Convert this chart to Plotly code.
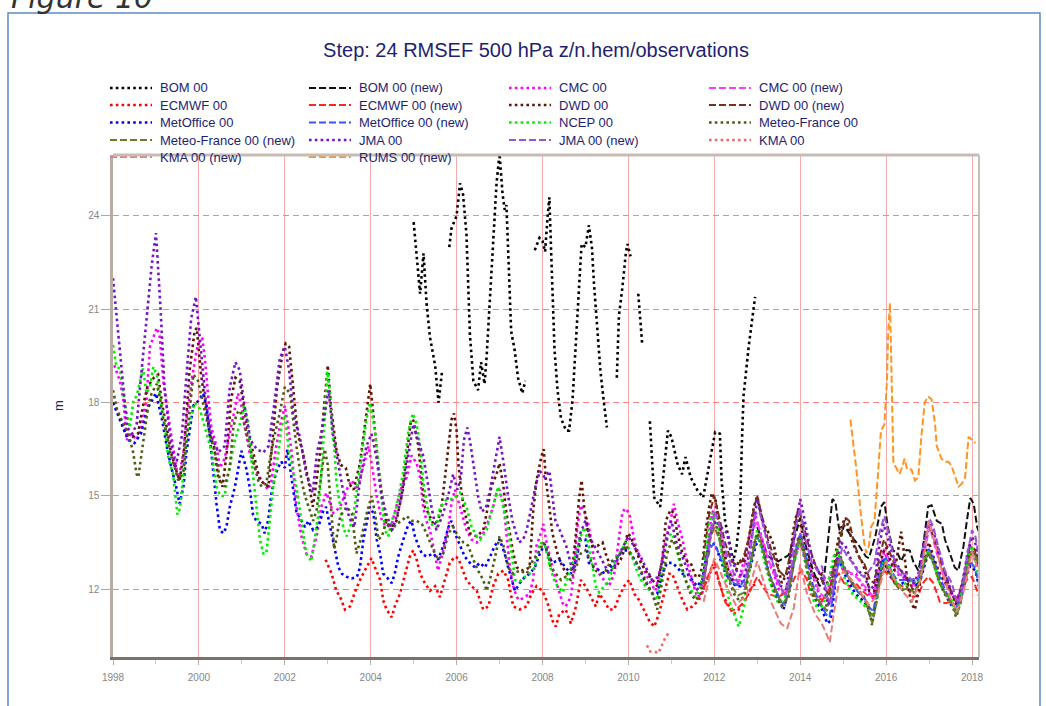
import plotly.graph_objects as go

# ---------------- data (year, m) ----------------
bom_00 = [
    (2005.0, 23.8), (2005.08, 22.5), (2005.15, 21.5), (2005.23, 22.8), (2005.3, 21.2), (2005.38, 20.1),
    (2005.5, 19.2), (2005.58, 18.0), (2005.62, 18.6), (2005.66, 19.0), (2005.75, None),
    (2005.83, 23.0), (2005.88, 23.6), (2006.0, 24.0), (2006.08, 25.05), (2006.15, 24.7), (2006.23, 23.4),
    (2006.27, 21.8), (2006.31, 20.2), (2006.39, 18.7), (2006.5, 18.4), (2006.57, 19.3), (2006.65, 18.6),
    (2006.7, 19.5), (2006.77, 21.3), (2006.85, 23.4), (2006.93, 25.05), (2007.0, 26.0), (2007.07, 24.7),
    (2007.12, 24.2), (2007.16, 24.35), (2007.2, 22.9), (2007.24, 21.3), (2007.27, 20.3), (2007.35, 19.7),
    (2007.43, 18.8), (2007.47, 18.6), (2007.53, 18.3), (2007.6, 18.7), (2007.7, None),
    (2007.82, 22.9), (2007.93, 23.3), (2008.0, 23.2), (2008.06, 22.85), (2008.12, 24.0), (2008.16, 24.6),
    (2008.2, 22.9), (2008.24, 21.1), (2008.28, 19.7), (2008.35, 18.4), (2008.43, 17.5), (2008.55, 17.1),
    (2008.62, 17.1), (2008.7, 18.1), (2008.78, 20.1), (2008.85, 21.8), (2008.91, 23.1), (2009.0, 23.0),
    (2009.08, 23.7), (2009.15, 23.0), (2009.2, 21.8), (2009.28, 20.3), (2009.35, 19.0), (2009.43, 18.0),
    (2009.5, 17.2), (2009.6, None),
    (2009.73, 18.8), (2009.78, 20.8), (2009.86, 21.7), (2009.94, 22.8), (2009.98, 23.1), (2010.05, 22.7),
    (2010.14, None),
    (2010.23, 21.5), (2010.28, 20.4), (2010.32, 19.9), (2010.4, None),
    (2010.5, 17.4), (2010.6, 14.95), (2010.74, 14.65), (2010.92, 17.1), (2011.0, 16.9), (2011.15, 16.0),
    (2011.25, 15.7), (2011.33, 16.25), (2011.45, 15.6), (2011.6, 15.2), (2011.74, 14.95), (2011.9, 16.15),
    (2012.02, 17.05), (2012.13, 17.0), (2012.17, 15.5), (2012.25, 14.2), (2012.44, 12.9), (2012.52, 13.4),
    (2012.6, 14.4), (2012.64, 16.6), (2012.68, 18.2), (2012.8, 19.8), (2012.95, 21.4),
]

bom_00_new = [
    (2013.0, 14.0), (2013.25, 13.05), (2013.49, 12.9), (2013.73, 13.1), (2013.9, 13.8), (2014.0, 14.3),
    (2014.15, 13.3), (2014.3, 12.6), (2014.45, 12.1), (2014.55, 12.3), (2014.65, 13.6), (2014.75, 14.9),
    (2014.82, 14.8), (2014.9, 14.0), (2014.96, 13.7), (2015.02, 14.07), (2015.14, 13.8), (2015.25, 13.6),
    (2015.37, 13.4), (2015.53, 13.05), (2015.6, 13.0), (2015.75, 13.7), (2015.88, 14.65), (2015.96, 14.8),
    (2016.04, 14.0), (2016.16, 13.25), (2016.27, 13.15), (2016.35, 12.9), (2016.47, 13.26), (2016.55, 13.25),
    (2016.63, 12.9), (2016.75, 12.6), (2016.86, 13.37), (2016.98, 14.66), (2017.06, 14.7), (2017.18, 14.2),
    (2017.3, 14.1), (2017.37, 13.6), (2017.49, 13.15), (2017.6, 12.7), (2017.68, 12.6), (2017.8, 13.37),
    (2017.88, 14.2), (2017.96, 14.93), (2018.04, 14.75), (2018.12, 14.0), (2018.16, 13.85),
]

cmc_00 = [
    (1998.03, 19.2), (1998.16, 18.7), (1998.24, 18.1), (1998.32, 16.8), (1998.43, 17.0), (1998.55, 16.8),
    (1998.66, 17.2), (1998.78, 18.1), (1998.86, 19.8), (1998.94, 20.1), (1999.02, 20.4), (1999.09, 20.1),
    (1999.17, 18.7), (1999.25, 17.9), (1999.36, 17.0), (1999.44, 16.2), (1999.52, 15.5), (1999.64, 16.4),
    (1999.71, 17.45), (1999.83, 18.7), (1999.95, 19.7), (2000.02, 20.0), (2000.08, 20.05), (2000.14, 19.4),
    (2000.21, 18.3), (2000.29, 17.2), (2000.41, 16.6), (2000.49, 15.9), (2000.6, 16.2), (2000.72, 17.0),
    (2000.84, 17.9), (2000.91, 18.3), (2000.99, 17.9), (2001.07, 17.2), (2001.18, 16.4), (2001.3, 15.9),
    (2001.46, 15.5), (2001.61, 15.2), (2001.69, 15.5), (2001.8, 16.6), (2001.88, 17.2), (2002.0, 17.9),
    (2002.08, 17.2), (2002.16, 16.4), (2002.27, 14.65), (2002.39, 13.7), (2002.5, 13.15), (2002.62, 13.05),
    (2002.74, 13.7), (2002.85, 14.65), (2002.97, 15.1), (2003.05, 14.75), (2003.13, 14.45), (2003.29, 14.65),
    (2003.44, 15.2), (2003.56, 15.5), (2003.68, 15.2), (2003.83, 15.95), (2003.95, 16.6), (2004.02, 16.05),
    (2004.14, 15.0), (2004.26, 14.2), (2004.37, 14.0), (2004.49, 14.1), (2004.6, 14.65), (2004.72, 15.3),
    (2004.84, 15.6), (2004.95, 16.3), (2005.07, 16.05), (2005.15, 15.6), (2005.22, 14.65), (2005.3, 14.2),
    (2005.38, 13.9), (2005.5, 13.15), (2005.57, 12.6), (2005.69, 13.25), (2005.81, 14.0), (2005.88, 14.75),
    (2005.96, 15.2), (2006.08, 14.65), (2006.16, 14.2), (2006.23, 13.9), (2006.35, 13.6), (2006.47, 13.5),
    (2006.62, 13.8), (2006.74, 14.2), (2006.85, 14.65), (2006.93, 15.1), (2007.0, 15.2), (2007.09, 14.75),
    (2007.16, 13.8), (2007.24, 12.7), (2007.32, 12.1), (2007.4, 11.75), (2007.47, 11.65), (2007.59, 11.75),
    (2007.7, 11.85), (2007.78, 12.3), (2007.86, 13.4), (2007.94, 13.7), (2008.02, 14.1), (2008.08, 13.6),
    (2008.23, 12.7), (2008.35, 12.1), (2008.47, 11.55), (2008.54, 11.45), (2008.66, 11.75), (2008.74, 12.7),
    (2008.81, 14.0), (2008.89, 14.7), (2008.97, 14.5), (2009.05, 14.2), (2009.12, 13.7), (2009.2, 12.95),
    (2009.32, 12.5), (2009.43, 12.3), (2009.55, 12.1), (2009.67, 12.5), (2009.78, 13.6), (2009.86, 14.45),
    (2009.92, 14.6), (2010.02, 14.45), (2010.09, 13.9), (2010.17, 13.4), (2010.29, 12.95), (2010.4, 12.5),
    (2010.52, 12.2), (2010.63, 11.95), (2010.75, 12.7), (2010.87, 13.6), (2010.98, 14.2), (2011.06, 14.75),
    (2011.14, 14.2), (2011.26, 13.6), (2011.37, 12.85), (2011.49, 12.3), (2011.6, 11.75), (2011.72, 11.85),
    (2011.8, 12.7), (2011.88, 13.8), (2011.95, 14.45), (2012.03, 14.65), (2012.11, 14.1), (2012.19, 13.4),
    (2012.3, 12.7), (2012.42, 12.3), (2012.53, 12.1), (2012.65, 12.7), (2012.77, 13.4), (2012.88, 14.1),
    (2012.96, 14.35), (2013.04, 14.0), (2013.16, 13.4), (2013.27, 12.85), (2013.39, 12.5), (2013.5, 12.0),
    (2013.65, 11.8), (2013.8, 12.6), (2014.0, 13.6), (2014.12, 13.0), (2014.25, 12.6), (2014.4, 12.0),
    (2014.5, 11.6), (2014.62, 11.8), (2014.75, 12.6), (2014.9, 13.0), (2015.0, 12.6), (2015.15, 12.5),
    (2015.3, 12.5), (2015.5, 12.0), (2015.7, 11.7), (2015.85, 12.6), (2015.95, 13.2), (2016.1, 12.8),
    (2016.25, 12.5), (2016.5, 12.3), (2016.7, 12.0), (2016.85, 12.6), (2017.0, 13.3), (2017.12, 12.9),
    (2017.25, 12.5), (2017.5, 11.9), (2017.65, 11.6), (2017.8, 12.3), (2017.95, 13.2), (2018.05, 13.0),
    (2018.15, 12.8),
]

cmc_00_new = [
    (2011.75, 12.0), (2011.9, 13.9), (2012.03, 14.5), (2012.15, 13.8), (2012.3, 12.8), (2012.45, 12.3),
    (2012.6, 12.3), (2012.75, 13.0), (2012.9, 13.9), (2013.0, 14.2), (2013.15, 13.4), (2013.3, 12.8),
    (2013.45, 12.3), (2013.6, 11.9), (2013.75, 12.3), (2013.9, 13.3), (2014.0, 13.8), (2014.12, 13.1),
    (2014.28, 12.5), (2014.45, 11.9), (2014.6, 11.7), (2014.72, 12.2), (2014.85, 12.9), (2014.95, 12.8),
    (2015.1, 12.6), (2015.3, 12.4), (2015.5, 12.1), (2015.68, 11.8), (2015.82, 12.4), (2015.95, 13.3),
    (2016.1, 12.9), (2016.3, 12.5), (2016.5, 12.3), (2016.68, 12.1), (2016.82, 12.6), (2016.95, 13.6),
    (2017.02, 14.0), (2017.15, 13.3), (2017.3, 12.6), (2017.5, 11.9), (2017.65, 11.7), (2017.8, 12.3),
    (2017.95, 13.2), (2018.06, 13.1), (2018.16, 12.8),
]

ecmwf_00 = [
    (2002.95, 12.95), (2003.09, 12.5), (2003.2, 11.95), (2003.29, 11.75), (2003.4, 11.35), (2003.52, 11.45),
    (2003.63, 11.9), (2003.75, 12.3), (2003.9, 12.7), (2004.02, 13.0), (2004.1, 12.7), (2004.22, 12.3),
    (2004.29, 11.65), (2004.37, 11.35), (2004.49, 11.1), (2004.56, 11.45), (2004.68, 11.85), (2004.8, 12.5),
    (2004.91, 13.05), (2004.99, 13.25), (2005.07, 12.95), (2005.15, 12.5), (2005.26, 12.2), (2005.38, 11.95),
    (2005.5, 12.1), (2005.61, 11.75), (2005.73, 12.3), (2005.84, 12.85), (2005.96, 13.05), (2006.04, 13.0),
    (2006.12, 12.7), (2006.23, 12.3), (2006.35, 12.1), (2006.47, 11.95), (2006.62, 11.35), (2006.74, 11.45),
    (2006.85, 12.1), (2006.97, 12.5), (2007.09, 12.6), (2007.2, 12.3), (2007.32, 11.45), (2007.47, 11.35),
    (2007.63, 11.45), (2007.74, 11.85), (2007.86, 12.1), (2008.0, 11.95), (2008.12, 11.55), (2008.23, 11.0),
    (2008.31, 10.8), (2008.39, 11.2), (2008.54, 11.35), (2008.66, 10.9), (2008.78, 11.45), (2008.89, 12.3),
    (2009.0, 12.1), (2009.12, 11.75), (2009.24, 11.45), (2009.32, 11.85), (2009.43, 11.65), (2009.55, 11.35),
    (2009.67, 11.35), (2009.78, 11.75), (2009.9, 12.1), (2010.02, 12.3), (2010.14, 11.85), (2010.25, 11.65),
    (2010.36, 11.35), (2010.48, 11.0), (2010.6, 10.8), (2010.71, 11.2), (2010.83, 11.85), (2010.95, 12.5),
    (2011.02, 12.5), (2011.14, 12.1), (2011.26, 11.65), (2011.37, 11.35), (2011.49, 11.45), (2011.64, 11.65),
    (2011.76, 12.1), (2011.88, 12.5), (2011.99, 12.7), (2012.1, 12.3), (2012.22, 11.75), (2012.34, 11.45),
    (2012.45, 11.2), (2012.57, 11.35), (2012.72, 11.65), (2012.88, 12.1), (2013.0, 12.2),
]

ecmwf_00_new = [
    (2011.75, 12.0), (2011.9, 12.6), (2012.0, 12.9), (2012.1, 12.3), (2012.25, 11.6), (2012.4, 11.3),
    (2012.55, 11.4), (2012.7, 11.6), (2012.85, 12.0), (2013.0, 12.4), (2013.12, 12.1), (2013.25, 11.85),
    (2013.49, 11.75), (2013.73, 11.95), (2013.88, 12.4), (2014.04, 12.6), (2014.16, 12.3), (2014.24, 11.85),
    (2014.39, 11.75), (2014.51, 11.65), (2014.63, 11.85), (2014.75, 12.3), (2014.9, 12.5), (2015.02, 12.2),
    (2015.14, 12.1), (2015.29, 12.2), (2015.45, 11.95), (2015.61, 11.75), (2015.76, 11.8), (2015.88, 12.4),
    (2015.96, 12.6), (2016.08, 12.4), (2016.24, 12.2), (2016.39, 12.1), (2016.51, 12.0), (2016.63, 11.75),
    (2016.75, 11.8), (2016.86, 12.2), (2016.98, 12.4), (2017.1, 12.2), (2017.25, 11.6), (2017.37, 11.55),
    (2017.53, 11.6), (2017.65, 11.75), (2017.76, 11.95), (2017.88, 12.3), (2018.0, 12.4), (2018.12, 11.95),
    (2018.17, 11.75),
]

dwd_00 = [
    (1998.0, 18.0), (1998.17, 17.5), (1998.3, 17.0), (1998.45, 16.9), (1998.58, 17.0), (1998.7, 17.9),
    (1998.8, 18.5), (1998.95, 18.8), (1999.05, 18.9), (1999.15, 17.9), (1999.25, 17.2), (1999.35, 16.4),
    (1999.45, 15.9), (1999.55, 15.5), (1999.65, 16.4), (1999.78, 19.0), (1999.9, 20.3), (1999.95, 20.4),
    (2000.05, 18.9), (2000.15, 17.9), (2000.25, 17.0), (2000.35, 16.6), (2000.45, 15.6), (2000.55, 15.3),
    (2000.65, 16.4), (2000.75, 18.1), (2000.85, 18.8), (2000.95, 18.7), (2001.05, 17.9), (2001.15, 17.0),
    (2001.3, 16.2), (2001.42, 15.5), (2001.52, 15.4), (2001.62, 15.3), (2001.72, 16.9), (2001.82, 18.5),
    (2001.95, 19.6), (2002.02, 19.9), (2002.1, 19.8), (2002.2, 18.3), (2002.3, 17.0), (2002.42, 16.4),
    (2002.55, 15.5), (2002.65, 14.65), (2002.72, 15.3), (2002.82, 16.4), (2002.92, 17.9), (2003.0, 19.2),
    (2003.08, 17.8), (2003.2, 16.5), (2003.3, 16.0), (2003.42, 15.9), (2003.5, 15.4), (2003.6, 15.2),
    (2003.75, 16.05), (2003.88, 17.4), (2003.99, 18.6), (2004.1, 17.1), (2004.17, 16.0), (2004.22, 15.5),
    (2004.3, 14.65), (2004.37, 14.1), (2004.49, 14.0), (2004.6, 14.2), (2004.72, 15.0), (2004.84, 16.3),
    (2004.93, 17.35), (2004.99, 17.45), (2005.11, 16.6), (2005.19, 15.5), (2005.26, 14.65), (2005.34, 14.45),
    (2005.46, 14.1), (2005.57, 14.2), (2005.65, 14.65), (2005.73, 15.6), (2005.81, 16.6), (2005.88, 17.45),
    (2005.94, 17.65), (2006.0, 17.1), (2006.04, 16.05), (2006.08, 15.5), (2006.16, 14.65), (2006.23, 14.2),
    (2006.31, 13.8), (2006.47, 13.7), (2006.62, 13.9), (2006.7, 14.45), (2006.81, 15.3), (2006.93, 15.7),
    (2007.0, 16.05), (2007.09, 15.3), (2007.16, 14.45), (2007.24, 13.8), (2007.32, 13.15), (2007.4, 12.7),
    (2007.55, 12.6), (2007.7, 12.7), (2007.78, 14.45), (2007.86, 15.5), (2007.98, 16.3), (2008.03, 16.5),
    (2008.08, 15.5), (2008.16, 14.65), (2008.23, 13.8), (2008.35, 13.15), (2008.47, 12.7), (2008.58, 12.5),
    (2008.7, 12.7), (2008.78, 13.8), (2008.85, 14.9), (2008.91, 15.5), (2008.97, 14.65), (2009.05, 13.9),
    (2009.16, 13.4), (2009.28, 13.4), (2009.4, 13.5), (2009.47, 13.15), (2009.59, 12.7), (2009.7, 12.7),
    (2009.82, 12.95), (2009.9, 13.25), (2009.98, 13.8), (2010.05, 13.7), (2010.17, 13.25), (2010.29, 12.85),
    (2010.4, 12.6), (2010.56, 12.3), (2010.67, 12.1), (2010.79, 12.95), (2010.87, 14.2), (2010.98, 14.55),
    (2011.06, 14.45), (2011.14, 13.8), (2011.26, 13.15), (2011.37, 12.9), (2011.45, 12.85), (2011.57, 12.4),
    (2011.64, 12.4), (2011.72, 12.7), (2011.8, 13.9), (2011.88, 14.65), (2011.94, 15.1), (2012.03, 14.85),
    (2012.1, 14.2), (2012.18, 13.6), (2012.3, 12.7), (2012.42, 12.3), (2012.53, 12.7), (2012.57, 12.95),
    (2012.69, 12.85), (2012.8, 13.6), (2012.92, 14.65), (2013.0, 15.0), (2013.08, 14.45), (2013.15, 14.1),
    (2013.27, 13.8), (2013.39, 13.4), (2013.47, 12.8), (2013.57, 12.2), (2013.73, 12.6), (2013.84, 13.9),
    (2013.92, 14.45), (2014.04, 13.9), (2014.16, 13.15), (2014.27, 12.5), (2014.39, 12.3), (2014.51, 12.5),
    (2014.63, 12.2), (2014.75, 12.6), (2014.9, 13.7), (2014.98, 14.1), (2015.06, 14.3), (2015.14, 13.9),
    (2015.22, 13.5), (2015.33, 13.15), (2015.45, 12.85), (2015.53, 12.5), (2015.61, 11.95), (2015.73, 11.95),
    (2015.84, 12.6), (2015.92, 13.15), (2016.0, 13.35), (2016.08, 13.0), (2016.2, 12.6), (2016.27, 13.25),
    (2016.35, 13.85), (2016.43, 13.05), (2016.51, 12.1), (2016.59, 11.55), (2016.67, 11.35), (2016.78, 12.1),
    (2016.9, 13.05), (2017.0, 13.5), (2017.1, 13.05), (2017.22, 12.6), (2017.33, 12.3), (2017.45, 12.1),
    (2017.57, 11.75), (2017.65, 11.45), (2017.76, 12.1), (2017.88, 12.95), (2017.96, 13.35), (2018.08, 13.25),
    (2018.16, 12.75),
]

dwd_00_new = [
    (2011.75, 13.0), (2011.88, 14.4), (2012.0, 15.0), (2012.1, 14.4), (2012.25, 13.5), (2012.4, 12.9),
    (2012.5, 12.8), (2012.65, 12.9), (2012.8, 13.6), (2012.92, 14.6), (2013.0, 15.0), (2013.12, 14.3),
    (2013.25, 13.6), (2013.4, 13.0), (2013.5, 12.6), (2013.65, 12.4), (2013.78, 13.2), (2013.95, 14.6),
    (2014.05, 14.2), (2014.2, 13.4), (2014.35, 12.8), (2014.45, 12.5), (2014.58, 12.0), (2014.68, 11.8),
    (2014.78, 12.5), (2014.9, 13.5), (2015.05, 14.3), (2015.14, 14.2), (2015.25, 13.5), (2015.38, 13.0),
    (2015.5, 12.8), (2015.62, 12.3), (2015.72, 12.2), (2015.84, 13.0), (2015.95, 13.6), (2016.08, 13.2),
    (2016.2, 12.8), (2016.35, 12.6), (2016.5, 12.3), (2016.62, 12.0), (2016.75, 12.2), (2016.88, 13.3),
    (2017.0, 14.1), (2017.1, 13.7), (2017.25, 13.0), (2017.4, 12.4), (2017.5, 12.0), (2017.62, 11.6),
    (2017.72, 11.7), (2017.84, 12.6), (2017.95, 13.4), (2018.05, 13.3), (2018.15, 12.8),
]

metoffice_00 = [
    (1998.0, 18.0), (1998.2, 17.3), (1998.35, 16.8), (1998.5, 16.7), (1998.65, 17.0), (1998.8, 17.8),
    (1999.0, 18.3), (1999.15, 17.4), (1999.25, 16.6), (1999.36, 15.9), (1999.47, 15.3), (1999.55, 14.75),
    (1999.64, 15.3), (1999.71, 16.4), (1999.79, 17.2), (1999.87, 17.9), (1999.98, 18.05), (2000.1, 18.3),
    (2000.18, 17.9), (2000.25, 16.9), (2000.33, 15.8), (2000.41, 14.75), (2000.49, 13.9), (2000.57, 13.8),
    (2000.64, 14.0), (2000.72, 14.65), (2000.84, 15.3), (2000.92, 15.9), (2000.99, 16.45), (2001.1, 15.9),
    (2001.18, 15.3), (2001.26, 14.4), (2001.34, 14.2), (2001.46, 14.1), (2001.53, 13.8), (2001.61, 14.2),
    (2001.69, 15.1), (2001.77, 15.6), (2001.84, 15.9), (2001.92, 16.1), (2002.0, 15.9), (2002.06, 16.5),
    (2002.12, 15.9), (2002.19, 15.3), (2002.27, 14.5), (2002.39, 14.2), (2002.47, 14.0), (2002.55, 14.2),
    (2002.66, 13.9), (2002.78, 14.0), (2002.89, 14.5), (2002.96, 14.65), (2003.05, 14.0), (2003.17, 13.25),
    (2003.25, 12.7), (2003.33, 12.5), (2003.44, 12.4), (2003.56, 12.35), (2003.68, 12.4), (2003.75, 12.7),
    (2003.83, 13.6), (2003.9, 14.1), (2003.98, 14.65), (2004.06, 14.45), (2004.14, 13.6), (2004.22, 13.15),
    (2004.29, 12.5), (2004.37, 12.4), (2004.49, 12.2), (2004.56, 12.5), (2004.64, 13.05), (2004.76, 13.6),
    (2004.88, 14.1), (2004.95, 14.2), (2005.03, 13.7), (2005.11, 13.4), (2005.19, 13.15), (2005.3, 13.05),
    (2005.46, 13.15), (2005.57, 12.95), (2005.69, 13.4), (2005.81, 14.0), (2005.88, 14.2), (2005.96, 13.8),
    (2006.08, 13.4), (2006.19, 13.05), (2006.31, 12.85), (2006.43, 12.7), (2006.54, 12.85), (2006.66, 12.7),
    (2006.78, 13.05), (2006.89, 13.4), (2007.0, 13.6), (2007.12, 13.15), (2007.2, 12.7), (2007.28, 12.3),
    (2007.36, 11.95), (2007.47, 12.2), (2007.59, 12.4), (2007.7, 12.5), (2007.82, 12.7), (2007.94, 13.15),
    (2008.05, 13.45), (2008.12, 13.15), (2008.23, 12.85), (2008.39, 12.95), (2008.54, 12.7), (2008.66, 12.5),
    (2008.78, 12.95), (2008.89, 13.6), (2009.0, 13.6), (2009.08, 12.85), (2009.2, 12.7), (2009.32, 12.6),
    (2009.47, 12.5), (2009.59, 12.7), (2009.7, 12.95), (2009.86, 13.25), (2009.98, 13.25), (2010.09, 13.05),
    (2010.25, 12.7), (2010.4, 12.2), (2010.56, 11.85), (2010.67, 11.85), (2010.79, 12.5), (2010.9, 12.85),
    (2011.02, 12.85), (2011.14, 12.7), (2011.26, 12.5), (2011.37, 12.5), (2011.49, 12.3), (2011.6, 12.1),
    (2011.72, 12.3), (2011.8, 12.95), (2011.88, 13.4), (2011.95, 13.5), (2012.03, 13.4), (2012.15, 12.95),
    (2012.26, 12.5), (2012.38, 12.3), (2012.5, 12.1), (2012.61, 12.1), (2012.73, 12.5), (2012.84, 12.7),
    (2012.96, 13.4), (2013.04, 13.6), (2013.16, 13.15), (2013.27, 12.5), (2013.39, 12.1), (2013.5, 11.75),
    (2013.61, 11.35), (2013.73, 11.95), (2013.88, 13.15), (2013.96, 13.6), (2014.04, 13.4), (2014.16, 12.6),
    (2014.27, 11.95), (2014.39, 11.55), (2014.51, 11.35), (2014.63, 10.9), (2014.71, 11.0), (2014.78, 11.75),
    (2014.86, 12.75), (2014.94, 12.85), (2015.06, 12.4), (2015.18, 12.1), (2015.29, 11.85), (2015.45, 11.65),
    (2015.57, 11.45), (2015.65, 11.1), (2015.73, 11.35), (2015.84, 12.4), (2015.92, 12.95), (2016.04, 12.6),
    (2016.16, 12.3), (2016.27, 12.1), (2016.39, 12.2), (2016.51, 12.3), (2016.63, 12.3), (2016.75, 12.1),
    (2016.86, 12.6), (2016.98, 13.15), (2017.1, 12.95), (2017.22, 12.4), (2017.33, 11.95), (2017.49, 11.55),
    (2017.6, 11.35), (2017.72, 11.55), (2017.84, 12.3), (2017.96, 12.75), (2018.08, 12.6), (2018.16, 12.1),
]

metoffice_00_new = [
    (2011.75, 12.4), (2011.9, 13.3), (2012.0, 13.5), (2012.15, 13.0), (2012.3, 12.5), (2012.45, 12.2),
    (2012.6, 12.1), (2012.75, 12.4), (2012.9, 13.2), (2013.0, 13.7), (2013.12, 13.3), (2013.25, 12.6),
    (2013.4, 12.1), (2013.55, 11.6), (2013.65, 11.5), (2013.78, 12.2), (2013.9, 13.2), (2014.0, 13.8),
    (2014.1, 13.3), (2014.22, 12.5), (2014.35, 11.9), (2014.48, 11.5), (2014.6, 11.2), (2014.68, 11.1),
    (2014.78, 11.9), (2014.88, 12.8), (2014.96, 12.9), (2015.08, 12.5), (2015.2, 12.2), (2015.35, 11.9),
    (2015.5, 11.7), (2015.62, 11.4), (2015.7, 11.3), (2015.8, 12.0), (2015.9, 12.9), (2016.0, 13.0),
    (2016.12, 12.6), (2016.25, 12.3), (2016.4, 12.3), (2016.55, 12.3), (2016.68, 12.2), (2016.8, 12.4),
    (2016.92, 13.0), (2017.0, 13.3), (2017.12, 12.9), (2017.25, 12.4), (2017.4, 11.9), (2017.52, 11.6),
    (2017.62, 11.4), (2017.74, 11.7), (2017.86, 12.4), (2017.96, 12.9), (2018.06, 12.7), (2018.16, 12.2),
]

ncep_00 = [
    (1998.0, 19.85), (1998.08, 19.15), (1998.16, 19.1), (1998.28, 17.9), (1998.39, 17.2), (1998.48, 18.1),
    (1998.55, 18.2), (1998.63, 18.7), (1998.7, 19.1), (1998.78, 18.3), (1998.86, 18.5), (1998.94, 19.15),
    (1999.02, 18.9), (1999.1, 18.1), (1999.21, 17.2), (1999.29, 16.2), (1999.4, 15.7), (1999.5, 14.4),
    (1999.56, 14.6), (1999.64, 15.7), (1999.71, 16.9), (1999.83, 17.65), (1999.91, 18.0), (2000.02, 17.8),
    (2000.1, 17.4), (2000.18, 17.0), (2000.3, 16.4), (2000.41, 15.3), (2000.5, 15.0), (2000.6, 15.0),
    (2000.68, 15.7), (2000.84, 16.8), (2000.95, 17.3), (2001.05, 17.9), (2001.14, 17.45), (2001.22, 16.2),
    (2001.34, 14.7), (2001.42, 13.6), (2001.5, 13.15), (2001.57, 13.15), (2001.65, 14.2), (2001.73, 15.3),
    (2001.85, 16.4), (2001.92, 17.2), (2002.0, 17.6), (2002.1, 16.4), (2002.27, 15.3), (2002.39, 14.2),
    (2002.5, 13.15), (2002.62, 12.9), (2002.7, 13.6), (2002.78, 14.4), (2002.85, 15.8), (2002.93, 17.4),
    (2002.99, 19.0), (2003.05, 18.3), (2003.1, 17.1), (2003.15, 16.6), (2003.2, 15.5), (2003.28, 14.7),
    (2003.36, 14.0), (2003.44, 13.7), (2003.52, 14.0), (2003.6, 14.4), (2003.71, 15.5), (2003.83, 16.6),
    (2003.9, 17.45), (2003.98, 18.0), (2004.1, 17.1), (2004.18, 16.0), (2004.26, 14.8), (2004.33, 13.9),
    (2004.41, 13.7), (2004.49, 14.2), (2004.56, 14.45), (2004.64, 14.9), (2004.76, 15.8), (2004.88, 17.1),
    (2004.98, 17.65), (2005.07, 17.3), (2005.15, 16.6), (2005.22, 15.5), (2005.3, 14.8), (2005.38, 14.2),
    (2005.46, 14.0), (2005.53, 14.0), (2005.61, 14.6), (2005.77, 14.9), (2005.92, 14.9), (2006.08, 15.1),
    (2006.23, 14.65), (2006.35, 14.0), (2006.47, 13.7), (2006.55, 13.6), (2006.7, 13.9), (2006.85, 14.65),
    (2006.97, 15.3), (2007.09, 14.65), (2007.2, 13.9), (2007.28, 13.15), (2007.36, 12.3), (2007.47, 12.25),
    (2007.59, 12.4), (2007.7, 12.5), (2007.82, 12.7), (2007.94, 13.5), (2008.05, 13.45), (2008.16, 12.8),
    (2008.27, 12.3), (2008.35, 12.1), (2008.47, 11.9), (2008.62, 12.5), (2008.78, 13.15), (2008.89, 13.7),
    (2008.97, 14.0), (2009.08, 13.4), (2009.16, 12.8), (2009.24, 12.1), (2009.32, 11.9), (2009.43, 12.1),
    (2009.55, 12.3), (2009.7, 12.95), (2009.82, 13.25), (2009.94, 13.5), (2010.05, 13.2), (2010.17, 12.7),
    (2010.29, 12.3), (2010.4, 12.1), (2010.56, 11.9), (2010.67, 11.65), (2010.79, 12.7), (2010.9, 13.6),
    (2011.0, 13.8), (2011.08, 13.6), (2011.22, 12.7), (2011.33, 12.3), (2011.49, 11.9), (2011.57, 11.75),
    (2011.68, 12.1), (2011.8, 13.15), (2011.88, 14.1), (2011.95, 14.45), (2012.07, 14.1), (2012.15, 13.4),
    (2012.22, 12.7), (2012.34, 11.65), (2012.46, 11.2), (2012.57, 10.8), (2012.69, 11.45), (2012.8, 12.5),
    (2012.92, 13.4), (2013.0, 13.9), (2013.08, 13.4), (2013.2, 12.7), (2013.35, 12.0), (2013.49, 11.55),
    (2013.65, 11.75), (2013.8, 12.6), (2013.92, 13.15), (2014.0, 13.6), (2014.08, 13.15), (2014.2, 12.3),
    (2014.31, 11.65), (2014.43, 11.3), (2014.55, 11.55), (2014.67, 12.3), (2014.78, 13.05), (2014.86, 13.25),
    (2014.94, 12.95), (2015.06, 12.2), (2015.22, 11.85), (2015.33, 11.7), (2015.45, 11.55), (2015.57, 11.35),
    (2015.69, 11.1), (2015.8, 11.75), (2015.88, 12.6), (2015.96, 12.95), (2016.08, 12.75), (2016.2, 12.3),
    (2016.31, 12.1), (2016.47, 12.2), (2016.63, 12.3), (2016.75, 12.1), (2016.86, 12.75), (2016.98, 13.25),
    (2017.1, 12.85), (2017.22, 12.3), (2017.33, 11.95), (2017.49, 11.75), (2017.6, 11.35), (2017.68, 11.35),
    (2017.8, 12.3), (2017.92, 13.05), (2018.0, 13.4), (2018.12, 12.6), (2018.16, 12.4),
]

meteofrance_00 = [
    (1998.0, 18.4), (1998.1, 17.75), (1998.2, 17.45), (1998.28, 17.2), (1998.36, 17.0), (1998.47, 16.4),
    (1998.55, 15.7), (1998.59, 15.6), (1998.67, 16.4), (1998.74, 17.0), (1998.82, 17.9), (1998.9, 18.3),
    (1999.02, 18.6), (1999.1, 18.1), (1999.17, 17.45), (1999.25, 17.0), (1999.33, 16.4), (1999.44, 15.9),
    (1999.52, 15.5), (1999.64, 15.8), (1999.71, 16.8), (1999.79, 17.9), (1999.87, 18.9), (1999.98, 18.7),
    (2000.1, 17.9), (2000.18, 17.45), (2000.29, 16.8), (2000.41, 16.2), (2000.49, 15.5), (2000.6, 15.3),
    (2000.72, 15.9), (2000.8, 17.2), (2000.88, 17.65), (2000.95, 17.75), (2001.03, 17.45), (2001.15, 16.8),
    (2001.26, 16.15), (2001.38, 15.5), (2001.46, 15.3), (2001.57, 15.4), (2001.65, 16.15), (2001.77, 17.0),
    (2001.88, 17.65), (2002.0, 18.5), (2002.12, 18.3), (2002.19, 17.45), (2002.27, 16.6), (2002.39, 15.5),
    (2002.47, 15.0), (2002.58, 14.55), (2002.66, 14.2), (2002.74, 14.55), (2002.85, 15.7), (2002.93, 16.5),
    (2003.0, 16.0), (2003.08, 14.5), (2003.15, 13.3), (2003.2, 13.6), (2003.29, 14.35), (2003.44, 14.65),
    (2003.56, 14.45), (2003.67, 13.15), (2003.79, 13.7), (2003.91, 14.45), (2004.02, 15.0), (2004.1, 14.45),
    (2004.18, 13.6), (2004.26, 13.7), (2004.37, 14.2), (2004.49, 13.9), (2004.6, 14.1), (2004.72, 14.2),
    (2004.84, 14.35), (2004.95, 14.2), (2005.07, 14.2), (2005.19, 14.1), (2005.3, 13.8), (2005.46, 13.25),
    (2005.57, 12.95), (2005.69, 13.15), (2005.81, 13.8), (2005.92, 14.0), (2006.04, 13.7), (2006.16, 13.5),
    (2006.27, 13.4), (2006.39, 12.95), (2006.5, 12.6), (2006.62, 12.3), (2006.7, 11.95), (2006.81, 12.5),
    (2006.93, 13.25), (2007.0, 13.7), (2007.09, 13.4), (2007.16, 12.95), (2007.24, 12.6), (2007.32, 12.5),
    (2007.47, 12.6), (2007.63, 12.5), (2007.78, 12.95), (2007.9, 13.15), (2008.02, 13.5), (2008.13, 13.2),
    (2008.19, 12.7), (2008.31, 12.5), (2008.43, 12.3), (2008.54, 12.4), (2008.66, 12.3), (2008.78, 12.7),
    (2008.89, 13.15), (2009.0, 13.25), (2009.12, 12.95), (2009.24, 12.6), (2009.36, 12.5), (2009.47, 12.6),
    (2009.59, 12.9), (2009.7, 12.95), (2009.82, 13.15), (2009.94, 13.4), (2010.05, 13.15), (2010.17, 12.9),
    (2010.29, 12.6), (2010.4, 12.3), (2010.56, 11.85), (2010.67, 11.35), (2010.79, 12.3), (2010.9, 13.15),
    (2011.02, 13.6), (2011.1, 13.4), (2011.22, 12.85), (2011.33, 12.3), (2011.45, 11.85), (2011.57, 11.65),
    (2011.68, 11.85), (2011.8, 12.7), (2011.88, 13.6), (2012.0, 14.2), (2012.1, 13.8), (2012.22, 12.95),
    (2012.34, 12.3), (2012.46, 11.85), (2012.57, 11.65), (2012.69, 11.75), (2012.8, 12.5), (2012.92, 13.4),
    (2013.0, 13.8), (2013.12, 13.4), (2013.23, 12.7), (2013.35, 12.1), (2013.45, 11.75), (2013.57, 11.45),
    (2013.73, 11.75), (2013.84, 12.85), (2013.96, 13.7), (2014.08, 13.25), (2014.2, 12.4), (2014.31, 11.75),
    (2014.47, 11.55), (2014.59, 11.35), (2014.71, 12.1), (2014.82, 12.85), (2014.94, 13.05), (2015.06, 12.6),
    (2015.22, 12.2), (2015.37, 11.95), (2015.49, 11.75), (2015.61, 11.35), (2015.67, 10.85), (2015.76, 11.55),
    (2015.84, 12.3), (2015.96, 12.85), (2016.08, 12.5), (2016.2, 12.2), (2016.35, 11.95), (2016.51, 12.1),
    (2016.63, 11.85), (2016.75, 12.1), (2016.86, 12.75), (2016.98, 13.15), (2017.1, 12.85), (2017.22, 12.3),
    (2017.37, 11.85), (2017.53, 11.55), (2017.63, 11.1), (2017.73, 11.55), (2017.84, 12.4), (2017.96, 13.15),
    (2018.04, 13.25), (2018.16, 12.75),
]

meteofrance_00_new = [
    (2011.75, 12.2), (2011.9, 13.6), (2012.0, 14.0), (2012.12, 13.6), (2012.25, 12.8), (2012.4, 12.1),
    (2012.55, 11.8), (2012.7, 11.9), (2012.82, 12.7), (2012.95, 13.6), (2013.05, 13.7), (2013.18, 13.0),
    (2013.3, 12.4), (2013.45, 11.9), (2013.58, 11.5), (2013.72, 11.8), (2013.85, 12.9), (2013.97, 13.6),
    (2014.1, 13.1), (2014.22, 12.3), (2014.35, 11.8), (2014.5, 11.5), (2014.62, 11.3), (2014.72, 11.9),
    (2014.84, 12.8), (2014.95, 13.0), (2015.08, 12.5), (2015.25, 12.1), (2015.4, 11.9), (2015.52, 11.6),
    (2015.62, 11.2), (2015.68, 10.9), (2015.78, 11.6), (2015.87, 12.4), (2015.97, 12.9), (2016.1, 12.5),
    (2016.25, 12.1), (2016.4, 12.0), (2016.55, 12.0), (2016.67, 11.9), (2016.78, 12.2), (2016.88, 12.9),
    (2016.99, 13.2), (2017.12, 12.8), (2017.25, 12.2), (2017.4, 11.8), (2017.55, 11.5), (2017.64, 11.15),
    (2017.74, 11.6), (2017.86, 12.5), (2017.97, 13.2), (2018.05, 13.2), (2018.16, 12.7),
]

jma_00 = [
    (1998.0, 22.0), (1998.17, 19.6), (1998.33, 17.2), (1998.45, 17.0), (1998.55, 17.3), (1998.65, 18.8),
    (1998.78, 20.7), (1998.9, 22.4), (1999.0, 23.45), (1999.1, 21.2), (1999.2, 18.5), (1999.32, 17.0),
    (1999.45, 15.9), (1999.6, 16.9), (1999.7, 18.7), (1999.82, 20.7), (1999.93, 21.4), (2000.05, 19.6),
    (2000.17, 17.9), (2000.3, 16.9), (2000.45, 16.4), (2000.6, 16.6), (2000.72, 18.5), (2000.85, 19.3),
    (2000.95, 19.05), (2001.05, 18.0), (2001.2, 16.8), (2001.35, 16.5), (2001.5, 16.4), (2001.62, 16.6),
    (2001.75, 17.9), (2001.88, 19.4), (2002.0, 19.8), (2002.1, 19.05), (2002.2, 17.65), (2002.35, 16.9),
    (2002.5, 15.7), (2002.65, 15.1), (2002.75, 16.4), (2002.85, 17.0), (2002.95, 17.9), (2003.02, 18.4),
    (2003.12, 17.0), (2003.25, 16.0), (2003.38, 15.0), (2003.5, 14.3), (2003.62, 14.0), (2003.75, 15.5),
    (2003.9, 16.6), (2004.02, 17.0), (2004.14, 16.2), (2004.25, 15.0), (2004.37, 14.4), (2004.5, 13.9),
    (2004.62, 14.4), (2004.75, 15.2), (2004.88, 16.4), (2004.99, 17.3), (2005.1, 16.8), (2005.22, 16.3),
    (2005.33, 15.4), (2005.42, 14.6), (2005.53, 13.9), (2005.65, 14.3), (2005.77, 14.8), (2005.92, 15.7),
    (2006.02, 15.2), (2006.1, 15.6), (2006.17, 16.8), (2006.25, 17.2), (2006.32, 16.7), (2006.4, 16.0),
    (2006.5, 15.0), (2006.58, 14.5), (2006.68, 14.6), (2006.78, 15.2), (2006.9, 16.2), (2007.0, 16.9),
    (2007.1, 16.0), (2007.2, 15.0), (2007.3, 14.2), (2007.45, 13.5), (2007.55, 13.6), (2007.63, 13.9),
    (2007.72, 14.5), (2007.85, 15.4), (2007.94, 15.8), (2008.05, 15.6), (2008.16, 15.8), (2008.23, 15.0),
    (2008.3, 14.2), (2008.4, 13.9), (2008.55, 13.4), (2008.7, 12.6), (2008.78, 12.8), (2008.88, 13.8),
    (2009.0, 14.2), (2009.12, 13.6), (2009.25, 13.3), (2009.4, 12.9), (2009.55, 12.5), (2009.7, 12.8),
    (2009.85, 13.3), (2010.0, 13.7), (2010.12, 13.4), (2010.3, 13.0), (2010.45, 12.6), (2010.55, 12.3),
    (2010.7, 12.4), (2010.8, 12.9), (2010.92, 13.8), (2011.0, 14.2), (2011.12, 13.5), (2011.3, 12.9),
    (2011.45, 12.3), (2011.6, 12.0), (2011.72, 12.2), (2011.85, 13.2), (2011.95, 14.0), (2012.05, 14.2),
    (2012.15, 14.0), (2012.3, 13.8), (2012.42, 12.9), (2012.55, 12.5), (2012.7, 12.4), (2012.82, 13.2),
    (2012.92, 14.2), (2013.0, 14.9), (2013.1, 14.3), (2013.25, 13.4), (2013.4, 12.6), (2013.55, 12.1),
    (2013.68, 12.0), (2013.8, 13.2), (2013.92, 14.3), (2014.0, 14.9), (2014.08, 14.4), (2014.2, 13.5),
    (2014.3, 12.9), (2014.42, 12.6), (2014.55, 12.2), (2014.65, 11.5), (2014.75, 11.8), (2014.85, 12.9),
    (2014.95, 13.5), (2015.05, 13.4), (2015.2, 12.9), (2015.35, 12.6), (2015.5, 12.4), (2015.62, 12.0),
    (2015.72, 12.1), (2015.84, 13.4), (2015.94, 14.1), (2016.05, 13.6), (2016.2, 12.9), (2016.35, 12.6),
    (2016.5, 12.3), (2016.65, 12.2), (2016.78, 12.6), (2016.9, 13.7), (2017.0, 14.2), (2017.1, 13.9),
    (2017.25, 13.0), (2017.4, 12.4), (2017.55, 11.8), (2017.65, 11.6), (2017.78, 12.2), (2017.9, 13.2),
    (2018.0, 13.7), (2018.1, 13.4), (2018.16, 13.0),
]

jma_00_new = [
    (2011.75, 12.3), (2011.9, 13.6), (2012.0, 14.5), (2012.1, 14.2), (2012.25, 13.3), (2012.4, 12.7),
    (2012.55, 12.2), (2012.7, 12.1), (2012.85, 13.3), (2012.95, 14.4), (2013.05, 14.5), (2013.15, 14.0),
    (2013.25, 13.4), (2013.45, 12.4), (2013.65, 11.75), (2013.8, 12.6), (2013.88, 13.9), (2014.0, 14.6),
    (2014.1, 13.7), (2014.27, 12.85), (2014.4, 12.6), (2014.51, 12.75), (2014.63, 11.75), (2014.71, 11.55),
    (2014.82, 12.4), (2014.9, 12.85), (2014.98, 13.35), (2015.1, 13.05), (2015.22, 12.85), (2015.37, 12.5),
    (2015.49, 12.4), (2015.61, 12.6), (2015.73, 12.85), (2015.84, 13.8), (2015.96, 14.35), (2016.08, 13.7),
    (2016.2, 12.85), (2016.35, 12.5), (2016.47, 12.5), (2016.59, 12.3), (2016.75, 12.4), (2016.86, 13.05),
    (2016.94, 13.9), (2017.02, 14.25), (2017.1, 14.0), (2017.22, 13.35), (2017.37, 12.6), (2017.53, 12.2),
    (2017.65, 11.55), (2017.76, 11.85), (2017.88, 13.05), (2018.0, 13.9), (2018.08, 13.7), (2018.16, 13.05),
]

kma_00 = [
    (2010.43, 10.2), (2010.51, 10.0), (2010.6, 10.0), (2010.7, 9.95), (2010.78, 10.2), (2010.88, 10.5),
    (2010.98, 10.65),
]

kma_00_new = [
    (2011.75, 11.6), (2012.0, 13.0), (2012.25, 12.2), (2012.5, 11.5), (2012.75, 11.8), (2013.0, 12.9),
    (2013.25, 11.8), (2013.45, 11.2), (2013.55, 10.9), (2013.7, 10.75), (2013.85, 11.4), (2014.0, 12.8),
    (2014.15, 11.9), (2014.35, 11.2), (2014.5, 10.9), (2014.6, 10.6), (2014.69, 10.3), (2014.78, 11.2),
    (2014.9, 12.2), (2015.0, 12.6), (2015.2, 12.3), (2015.4, 11.9), (2015.6, 11.5), (2015.8, 11.8),
    (2016.0, 12.9), (2016.2, 12.3), (2016.4, 11.9), (2016.6, 11.6), (2016.8, 12.3), (2017.0, 14.2),
    (2017.15, 13.4), (2017.3, 12.6), (2017.5, 11.7), (2017.65, 11.3), (2017.8, 11.9), (2018.0, 13.2),
    (2018.15, 12.6),
]

rums_00_new = [
    (2015.17, 17.45), (2015.3, 15.95), (2015.41, 14.45), (2015.49, 13.5), (2015.54, 13.16), (2015.6, 13.4),
    (2015.65, 14.0), (2015.73, 14.2), (2015.8, 15.5), (2015.88, 17.1), (2015.96, 17.3), (2016.02, 18.7),
    (2016.05, 20.3), (2016.09, 21.2), (2016.11, 20.0), (2016.14, 17.66), (2016.17, 16.05), (2016.24, 15.9),
    (2016.31, 15.7), (2016.38, 15.95), (2016.43, 16.2), (2016.49, 15.85), (2016.59, 15.85), (2016.67, 15.5),
    (2016.75, 15.6), (2016.82, 16.9), (2016.9, 18.0), (2016.98, 18.2), (2017.06, 18.1), (2017.14, 17.3),
    (2017.18, 16.6), (2017.29, 16.2), (2017.37, 16.1), (2017.45, 16.1), (2017.53, 15.95), (2017.61, 15.6),
    (2017.69, 15.3), (2017.77, 15.4), (2017.84, 15.6), (2017.92, 16.9), (2017.96, 16.85), (2018.0, 16.8),
    (2018.08, 16.7),
]

# legend order (row-major, 4 columns) with colour and line kind
series = [
    ("BOM 00", bom_00, "#000000", "dot"),
    ("BOM 00 (new)", bom_00_new, "#111111", "dash"),
    ("CMC 00", cmc_00, "#ff00ff", "dot"),
    ("CMC 00 (new)", cmc_00_new, "#ff3cff", "dash"),
    ("ECMWF 00", ecmwf_00, "#ff0000", "dot"),
    ("ECMWF 00 (new)", ecmwf_00_new, "#ff2424", "dash"),
    ("DWD 00", dwd_00, "#5e1606", "dot"),
    ("DWD 00 (new)", dwd_00_new, "#73321c", "dash"),
    ("MetOffice 00", metoffice_00, "#0000ff", "dot"),
    ("MetOffice 00 (new)", metoffice_00_new, "#3a55ff", "dash"),
    ("NCEP 00", ncep_00, "#00f000", "dot"),
    ("Meteo-France 00", meteofrance_00, "#4e5c16", "dot"),
    ("Meteo-France 00 (new)", meteofrance_00_new, "#6c7b2c", "dash"),
    ("JMA 00", jma_00, "#7712c6", "dot"),
    ("JMA 00 (new)", jma_00_new, "#9c50d8", "dash"),
    ("KMA 00", kma_00, "#f06868", "dot"),
    ("KMA 00 (new)", kma_00_new, "#ea7c7c", "dash"),
    ("RUMS 00 (new)", rums_00_new, "#ff9422", "dash"),
]

x_ticks = list(range(1998, 2019, 2))
x_minor = list(range(1999, 2019, 2))
y_ticks = [12, 15, 18, 21, 24]

# ---------------- layout geometry (pixels) ----------------
W, H = 1046, 706
PL, PR, PT, PB = 113, 979, 155, 657
NAVY = "#1e1e72"
DOT_DASH = "2.6px,3.2px"
LINE_DASH = "7px,3px"


def fx(px):
    return (px - PL) / (PR - PL)


def fy(py):
    return (PB - py) / (PB - PT)


fig = go.Figure()
for name, data, color, kind in series:
    xs = [p[0] for p in data]
    ys = [p[1] for p in data]
    fig.add_trace(go.Scatter(
        x=xs, y=ys, name=name, mode="lines", connectgaps=False, showlegend=False,
        line=dict(color=color, width=2.6 if kind == "dot" else 2,
                  dash=DOT_DASH if kind == "dot" else LINE_DASH),
    ))

shapes = []
annotations = []

# custom legend laid out like the reference (4 columns x 5 rows)
col_text_x = [158, 357, 557, 757]
row_y = [88, 105, 122.5, 140, 157]
for i, (name, data, color, kind) in enumerate(series):
    r, c = divmod(i, 4)
    tx = col_text_x[c]
    yy = row_y[r]
    shapes.append(dict(
        type="line", xref="paper", yref="paper", layer="above",
        x0=fx(tx - 48), x1=fx(tx - 6), y0=fy(yy), y1=fy(yy),
        line=dict(color=color, width=2.6 if kind == "dot" else 2,
                  dash=DOT_DASH if kind == "dot" else LINE_DASH),
    ))
    annotations.append(dict(
        text=name, xref="paper", yref="paper", x=fx(tx), y=fy(yy),
        xanchor="left", yanchor="middle", showarrow=False,
        font=dict(family="Liberation Sans, Arial, sans-serif", size=13, color=NAVY),
    ))

# plot border (top/right light grey)
shapes.append(dict(type="line", xref="paper", yref="paper", x0=0, x1=1, y0=1, y1=1,
                   line=dict(color="#c6bcb4", width=3), layer="above"))
shapes.append(dict(type="line", xref="paper", yref="paper", x0=1, x1=1, y0=0, y1=1,
                   line=dict(color="#c8c0b8", width=2), layer="above"))

# outer document frame (blue)
shapes.append(dict(type="rect", xref="paper", yref="paper",
                   x0=fx(8), x1=fx(1040), y0=fy(725), y1=fy(13),
                   line=dict(color="#5f8ac4", width=1.5), layer="below"))

# "Figure 10" caption (cut off at the top of the page, as in the reference)
annotations.append(dict(
    text="<i>Figure 10</i>", xref="paper", yref="paper", x=fx(9), y=fy(-3),
    xanchor="left", yanchor="middle", showarrow=False,
    font=dict(family="DejaVu Sans, Verdana, sans-serif", size=30, color="#333333"),
))

# y-axis title
annotations.append(dict(
    text="m", xref="paper", yref="paper", x=fx(58), y=fy(405),
    xanchor="center", yanchor="middle", showarrow=False, textangle=-90,
    font=dict(family="Liberation Sans, Arial, sans-serif", size=13, color=NAVY),
))

fig.update_layout(
    width=W, height=H,
    margin=dict(l=PL, r=W - PR, t=PT, b=H - PB, pad=0),
    paper_bgcolor="white", plot_bgcolor="white",
    showlegend=False,
    title=dict(
        text="Step: 24 RMSEF 500 hPa z/n.hem/observations",
        x=fx(536), xref="paper", xanchor="center",
        y=1 - 50 / H, yref="container", yanchor="middle",
        font=dict(family="Liberation Sans, Arial, sans-serif", size=20, color=NAVY),
    ),
    shapes=shapes,
    annotations=annotations,
    xaxis=dict(
        range=[1998, 2018.163], tickmode="array", tickvals=x_ticks,
        ticktext=[str(t) for t in x_ticks],
        showgrid=True, gridcolor="#f4aaaa", gridwidth=1,
        ticks="outside", ticklen=5, tickcolor="#b0b0b0", tickwidth=1,
        ticklabelstandoff=4,
        tickfont=dict(family="Liberation Sans, Arial, sans-serif", size=10, color="#858585"),
        showline=True, linecolor="#7a726c", linewidth=3,
        zeroline=False,
        minor=dict(tickvals=x_minor, ticks="outside", ticklen=4, tickcolor="#c8c8c8", showgrid=False),
    ),
    yaxis=dict(
        range=[9.823, 25.96], tickmode="array", tickvals=y_ticks,
        ticktext=[str(t) for t in y_ticks],
        showgrid=True, gridcolor="#ff8282", gridwidth=1.2, griddash="6px,4px",
        ticks="outside", ticklen=9, tickcolor="#a8a8a8", tickwidth=1,
        tickfont=dict(family="Liberation Sans, Arial, sans-serif", size=10, color="#858585"),
        showline=True, linecolor="#b8aca4", linewidth=2.5,
        zeroline=False,
    ),
)

# the page's default 8px body margin would shift the figure; remove it; hide the mode bar
fig.write_html("out.html", config={"displayModeBar": False},
               post_script="document.body.style.margin='0';")
